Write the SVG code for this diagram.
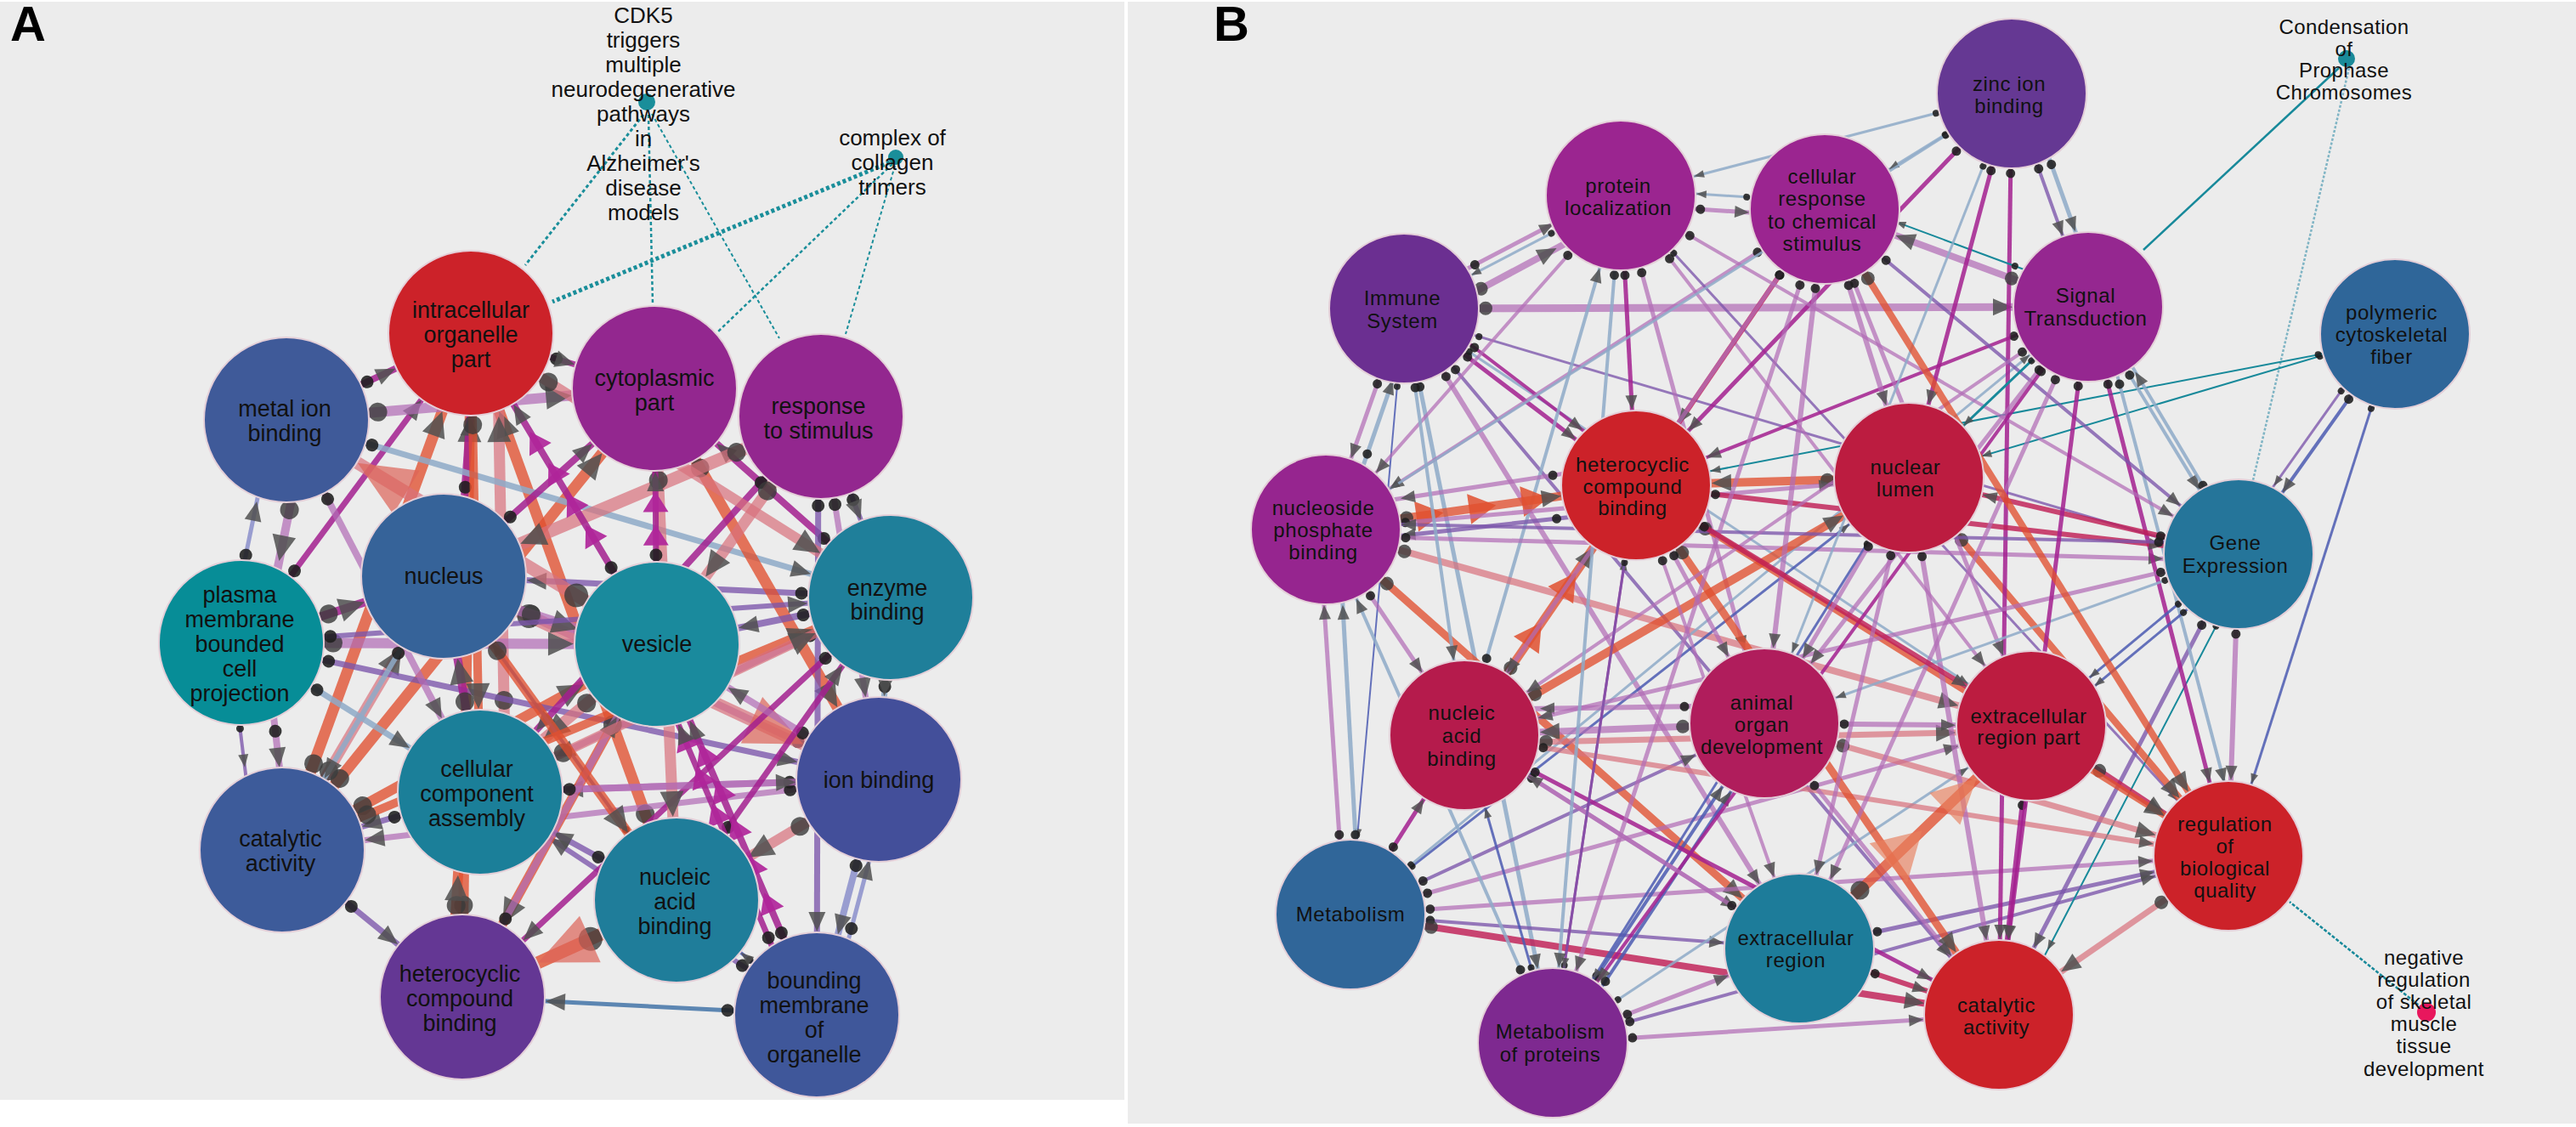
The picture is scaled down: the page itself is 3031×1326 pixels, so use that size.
<svg xmlns="http://www.w3.org/2000/svg" width="3031" height="1326" viewBox="0 0 3031 1326">
<style>
.bg{fill:#ececec}
.nd{stroke:#e4cfd8;stroke-width:2}
.la{font-family:"Liberation Sans",Arial,Helvetica,sans-serif;font-size:27px;fill:#111;text-anchor:middle}
.lb{font-family:"Liberation Sans",Arial,Helvetica,sans-serif;font-size:24px;fill:#111;text-anchor:middle;letter-spacing:0.6px}
.an{font-family:"Liberation Sans",Arial,Helvetica,sans-serif;font-size:26px;fill:#111;text-anchor:middle}
.anb{font-family:"Liberation Sans",Arial,Helvetica,sans-serif;font-size:24px;fill:#111;text-anchor:middle;letter-spacing:0.4px}
.pl{font-family:"Liberation Sans",Arial,Helvetica,sans-serif;font-weight:bold;font-size:58px;fill:#000}
line,polyline{fill:none}
.eO{stroke:#e0502f;stroke-opacity:.78}
.eR{stroke:#d8707c;stroke-opacity:.7}
.eM{stroke:#a3208f;stroke-opacity:.85}
.eP{stroke:#b26cb6;stroke-opacity:.72}
.eV{stroke:#7b55ab;stroke-opacity:.78}
.eB{stroke:#8eaac8;stroke-opacity:.85}
.eL{stroke:#8b8fcb;stroke-opacity:.85}
.eS{stroke:#5c86b2}
.eD{stroke:#4b5bb2;stroke-opacity:.85}
.eT{stroke:#17899a}
.eC{stroke:#c01e55;stroke-opacity:.82}
.dash{stroke:#1a8e9a;stroke-dasharray:4 3}
.ah{fill:#505050;fill-opacity:.85}
.dt{fill:#1e1e1e;fill-opacity:.88}
.dt2{fill:#3a3a3a;fill-opacity:.8}
.As{marker-start:url(#dAs);marker-end:url(#aAs)}
.Am{marker-start:url(#dAm);marker-end:url(#aAm)}
.Al{marker-start:url(#dAl);marker-end:url(#aAl)}
.Ax{marker-start:url(#dAx);marker-end:url(#aAx)}
.Bs{marker-start:url(#dBs);marker-end:url(#aBs)}
.Bm{marker-start:url(#dBm);marker-end:url(#aBm)}
.Bl{marker-start:url(#dBl);marker-end:url(#aBl)}
.cA{marker-start:url(#dAm);marker-mid:url(#mA);marker-end:url(#aAm)}
.cB{marker-start:url(#dBl);marker-mid:url(#mB);marker-end:url(#aBl)}
.cB2{marker-start:url(#dBx);marker-mid:url(#mB2);marker-end:url(#aBx)}
marker{overflow:visible}
</style>
<defs>
<marker id="aAs" markerUnits="userSpaceOnUse" orient="auto" markerWidth="1" markerHeight="1"><path class="ah" d="M-98,0L-113,-6L-113,6Z"/></marker>
<marker id="aAm" markerUnits="userSpaceOnUse" orient="auto" markerWidth="1" markerHeight="1"><path class="ah" d="M-98,0L-121,-10L-121,10Z"/></marker>
<marker id="aAl" markerUnits="userSpaceOnUse" orient="auto" markerWidth="1" markerHeight="1"><path class="ah" d="M-98,0L-128,-14L-128,14Z"/></marker>
<marker id="aAx" markerUnits="userSpaceOnUse" orient="auto" markerWidth="1" markerHeight="1"><path d="M-98,0L-165,-30L-165,30Z" fill="#dd6458" fill-opacity=".7"/></marker>
<marker id="dAs" markerUnits="userSpaceOnUse" orient="auto" markerWidth="1" markerHeight="1"><circle class="dt" cx="102" cy="0" r="4.5"/></marker>
<marker id="dAm" markerUnits="userSpaceOnUse" orient="auto" markerWidth="1" markerHeight="1"><circle class="dt" cx="105" cy="0" r="7.5"/></marker>
<marker id="dAl" markerUnits="userSpaceOnUse" orient="auto" markerWidth="1" markerHeight="1"><circle class="dt2" cx="108" cy="0" r="11"/></marker>
<marker id="dAx" markerUnits="userSpaceOnUse" orient="auto" markerWidth="1" markerHeight="1"><circle class="dt2" cx="111" cy="0" r="14"/></marker>
<marker id="mA" markerUnits="userSpaceOnUse" orient="auto" markerWidth="1" markerHeight="1"><path d="M14,0L-10,-15L-10,15Z" fill="#b0259a" fill-opacity=".92"/></marker>
<marker id="aBs" markerUnits="userSpaceOnUse" orient="auto" markerWidth="1" markerHeight="1"><path class="ah" d="M-89,0L-101,-4.5L-101,4.5Z"/></marker>
<marker id="aBm" markerUnits="userSpaceOnUse" orient="auto" markerWidth="1" markerHeight="1"><path class="ah" d="M-89,0L-106,-7L-106,7Z"/></marker>
<marker id="aBl" markerUnits="userSpaceOnUse" orient="auto" markerWidth="1" markerHeight="1"><path class="ah" d="M-89,0L-112,-10L-112,10Z"/></marker>
<marker id="aBx" markerUnits="userSpaceOnUse" orient="auto" markerWidth="1" markerHeight="1"><path d="M-89,0L-141,-26L-141,26Z" fill="#e8805e" fill-opacity=".65"/></marker>
<marker id="dBs" markerUnits="userSpaceOnUse" orient="auto" markerWidth="1" markerHeight="1"><circle class="dt" cx="92" cy="0" r="4"/></marker>
<marker id="dBm" markerUnits="userSpaceOnUse" orient="auto" markerWidth="1" markerHeight="1"><circle class="dt" cx="94" cy="0" r="5.5"/></marker>
<marker id="dBl" markerUnits="userSpaceOnUse" orient="auto" markerWidth="1" markerHeight="1"><circle class="dt2" cx="96" cy="0" r="8"/></marker>
<marker id="dBx" markerUnits="userSpaceOnUse" orient="auto" markerWidth="1" markerHeight="1"><circle class="dt2" cx="99" cy="0" r="11"/></marker>
<marker id="mB" markerUnits="userSpaceOnUse" orient="auto" markerWidth="1" markerHeight="1"><path d="M18,0L-14,-18L-14,18Z" fill="#e0502f" fill-opacity=".85"/></marker>
<marker id="mB2" markerUnits="userSpaceOnUse" orient="auto" markerWidth="1" markerHeight="1"><path d="M30,0L-25,-32L-25,32Z" fill="#e8805e" fill-opacity=".65"/></marker>
</defs>

<rect x="0" y="0" width="3031" height="1326" fill="#ffffff"/>
<rect class="bg" x="0" y="2" width="1323" height="1292"/>
<rect class="bg" x="1327" y="2" width="1704" height="1320"/>
<text class="pl" x="12" y="48">A</text>
<text class="pl" x="1428" y="48">B</text>

<g id="connectors">
<!-- Panel A annotation links -->
<line class="dash" x1="757" y1="135" x2="618" y2="312" stroke-width="3"/>
<line class="dash" x1="763" y1="135" x2="768" y2="358" stroke-width="2.5"/>
<line class="dash" x1="767" y1="134" x2="917" y2="398" stroke-width="2"/>
<line class="dash" x1="1047" y1="191" x2="650" y2="355" stroke-width="5"/>
<line class="dash" x1="1050" y1="193" x2="845" y2="390" stroke-width="2.5"/>
<line class="dash" x1="1053" y1="195" x2="995" y2="393" stroke-width="2"/>
<!-- Panel A edges -->
<line class="eO Al" x1="332" y1="1000" x2="554" y2="392" stroke-width="13"/>
<line class="eO Al" x1="332" y1="1000" x2="770" y2="457" stroke-width="13"/>
<line class="eO Al" x1="332" y1="1000" x2="773" y2="758" stroke-width="12"/>
<line class="eR Al" x1="332" y1="1000" x2="522" y2="678" stroke-width="12"/>
<line class="eO Al" x1="544" y1="1173" x2="554" y2="392" stroke-width="12"/>
<line class="eO Al" x1="796" y1="1059" x2="554" y2="392" stroke-width="13"/>
<line class="eR Al" x1="595" y1="932" x2="585" y2="392" stroke-width="13"/>
<line class="eM Am" x1="540" y1="678" x2="560" y2="392" stroke-width="9"/>
<line class="eM Am" x1="284" y1="756" x2="554" y2="392" stroke-width="7"/>
<line class="eM Al" x1="284" y1="756" x2="522" y2="678" stroke-width="10"/>
<line class="eP Al" x1="284" y1="756" x2="773" y2="758" stroke-width="12"/>
<line class="eV Am" x1="284" y1="756" x2="1034" y2="917" stroke-width="7"/>
<line class="eB Am" x1="284" y1="756" x2="565" y2="932" stroke-width="7"/>
<line class="eL Am" x1="268" y1="756" x2="322" y2="494" stroke-width="5"/>
<line class="eP Al" x1="362" y1="494" x2="309" y2="756" stroke-width="10"/>
<line class="eP Am" x1="337" y1="494" x2="565" y2="932" stroke-width="8"/>
<line class="eB Am" x1="337" y1="494" x2="1048" y2="703" stroke-width="7"/>
<line class="eP Al" x1="337" y1="494" x2="770" y2="457" stroke-width="12"/>
<line class="eM Am" x1="337" y1="494" x2="554" y2="392" stroke-width="8"/>
<line class="eM Am" x1="522" y1="678" x2="770" y2="457" stroke-width="8"/>
<line class="eV Am" x1="1048" y1="703" x2="522" y2="678" stroke-width="7"/>
<line class="eP Am" x1="1034" y1="917" x2="522" y2="678" stroke-width="8"/>
<line class="eO Al" x1="770" y1="457" x2="1034" y2="917" stroke-width="13"/>
<line class="eM Am" x1="1048" y1="703" x2="770" y2="457" stroke-width="8"/>
<line class="eR Al" x1="966" y1="490" x2="522" y2="678" stroke-width="15"/>
<line class="eV Am" x1="966" y1="490" x2="1048" y2="703" stroke-width="6"/>
<line class="eP Am" x1="966" y1="490" x2="1034" y2="917" stroke-width="7"/>
<line class="eV Am" x1="963" y1="490" x2="961" y2="1194" stroke-width="7"/>
<line class="eL Am" x1="1034" y1="917" x2="961" y2="1194" stroke-width="8"/>
<line class="eL Am" x1="975" y1="1194" x2="1048" y2="917" stroke-width="5"/>
<line class="eR Ax" x1="773" y1="758" x2="337" y2="494" stroke-width="15"/>
<line class="eR Ax" x1="522" y1="678" x2="1034" y2="917" stroke-width="15"/>
<line class="eO Ax" x1="796" y1="1059" x2="544" y2="1173" stroke-width="15"/>
<line class="eS Am" x1="961" y1="1194" x2="544" y2="1173" stroke-width="5"/>
<line class="eV Am" x1="961" y1="1194" x2="565" y2="932" stroke-width="6"/>
<line class="eD As" x1="961" y1="1194" x2="796" y2="1059" stroke-width="4"/>
<line class="eV Am" x1="565" y1="932" x2="332" y2="1000" stroke-width="7"/>
<line class="eP Am" x1="1034" y1="917" x2="332" y2="1000" stroke-width="7"/>
<line class="eB Am" x1="522" y1="678" x2="332" y2="1000" stroke-width="6"/>
<line class="eV Am" x1="332" y1="1000" x2="544" y2="1173" stroke-width="7"/>
<line class="eP Am" x1="312" y1="756" x2="340" y2="1000" stroke-width="8"/>
<line class="eV As" x1="270" y1="756" x2="300" y2="1000" stroke-width="4"/>
<line class="eR Al" x1="773" y1="758" x2="565" y2="932" stroke-width="13"/>
<line class="eP Am" x1="1048" y1="703" x2="565" y2="932" stroke-width="8"/>
<line class="eP Am" x1="1034" y1="917" x2="565" y2="932" stroke-width="8"/>
<line class="eO Al" x1="773" y1="758" x2="544" y2="1173" stroke-width="11"/>
<line class="eM Am" x1="1048" y1="703" x2="544" y2="1173" stroke-width="7"/>
<line class="eM Am" x1="966" y1="490" x2="565" y2="932" stroke-width="8"/>
<line class="eV Am" x1="1048" y1="703" x2="773" y2="758" stroke-width="8"/>
<line class="eP Al" x1="522" y1="690" x2="773" y2="770" stroke-width="12"/>
<line class="eM Al" x1="565" y1="932" x2="522" y2="678" stroke-width="10"/>
<line class="eV Am" x1="796" y1="1059" x2="565" y2="932" stroke-width="7"/>
<line class="eD As" x1="796" y1="1059" x2="522" y2="678" stroke-width="4"/>
<line class="eM Am" x1="554" y1="392" x2="770" y2="457" stroke-width="7"/>
<line class="eR Al" x1="770" y1="457" x2="796" y2="1059" stroke-width="13"/>
<line class="eR Al" x1="966" y1="490" x2="773" y2="758" stroke-width="13"/>
<line class="eR Al" x1="554" y1="392" x2="1048" y2="703" stroke-width="12"/>
<line class="eP Am" x1="1034" y1="917" x2="773" y2="758" stroke-width="8"/>
<line class="eR Al" x1="1034" y1="917" x2="796" y2="1059" stroke-width="12"/>
<line class="eB Am" x1="1048" y1="703" x2="1034" y2="917" stroke-width="7"/>
<line class="eO Al" x1="530" y1="1173" x2="545" y2="932" stroke-width="12"/>
<line class="eO Al" x1="332" y1="1000" x2="1048" y2="703" stroke-width="10"/>
<line class="eP Am" x1="544" y1="1173" x2="773" y2="758" stroke-width="8"/>
<line class="eR Al" x1="565" y1="932" x2="1048" y2="703" stroke-width="11"/>
<line class="eO Al" x1="522" y1="678" x2="796" y2="1059" stroke-width="11"/>
<line class="eP Am" x1="565" y1="932" x2="1034" y2="917" stroke-width="8"/>
<line class="eV Am" x1="284" y1="756" x2="1048" y2="703" stroke-width="6"/>
<line class="eO Al" x1="554" y1="392" x2="565" y2="932" stroke-width="10"/>
<line class="eM Am" x1="796" y1="1059" x2="1048" y2="703" stroke-width="7"/>
<polyline class="eM cA" points="961,1194 904.6,1063.2 885.8,1019.6 867,976 848.2,932.4 829.4,888.8 773,758" stroke-width="8"/>
<polyline class="eM cA" points="945,1200 843.25,959.1 824.75,915.3 806.25,871.5 760,762" stroke-width="7"/>
<polyline class="eM cA" points="773,758 696.4,629.9 674.5,593.3 652.6,556.7 630.7,520.1 554,392" stroke-width="8"/>
<polyline class="eM cA" points="773,758 771.7,631.6 771.4,592.4 770,457" stroke-width="7"/>

<!-- Panel B annotation links -->
<line class="eT" x1="2752" y1="80" x2="2522" y2="294" stroke-width="2.5"/>
<line x1="2764" y1="80" x2="2651" y2="565" stroke="#7fb4c4" stroke-width="2.5" stroke-dasharray="3 2"/>
<line x1="2850" y1="1186" x2="2694" y2="1061" stroke="#17899a" stroke-width="2.5" stroke-dasharray="4 2"/>
<!-- Panel B edges -->
<line class="eP Bm" x1="1652" y1="355" x2="1907" y2="222" stroke-width="5"/>
<line class="eB Bs" x1="1907" y1="232" x2="1652" y2="365" stroke-width="3"/>
<line class="eP Bl" x1="1658" y1="385" x2="1910" y2="250" stroke-width="8"/>
<line class="eP Bl" x1="1652" y1="363" x2="2457" y2="361" stroke-width="9"/>
<line class="eV Bs" x1="1652" y1="370" x2="2634" y2="660" stroke-width="3"/>
<line class="eB Bs" x1="1652" y1="363" x2="2390" y2="854" stroke-width="3"/>
<line class="eM Bm" x1="1652" y1="363" x2="1925" y2="571" stroke-width="5"/>
<line class="eM Bm" x1="1660" y1="352" x2="1933" y2="560" stroke-width="4"/>
<line class="eP Bm" x1="1652" y1="363" x2="2117" y2="1116" stroke-width="6"/>
<line class="eV Bm" x1="1652" y1="363" x2="2352" y2="1194" stroke-width="4"/>
<line class="eP Bm" x1="1652" y1="363" x2="1560" y2="623" stroke-width="5"/>
<line class="eB Bm" x1="1578" y1="623" x2="1668" y2="363" stroke-width="5"/>
<line class="eD Bs" x1="1652" y1="363" x2="1589" y2="1076" stroke-width="2"/>
<line class="eB Bm" x1="1652" y1="363" x2="1827" y2="1227" stroke-width="5"/>
<line class="eP Bm" x1="1907" y1="230" x2="1560" y2="623" stroke-width="4"/>
<line class="eP Bm" x1="2147" y1="246" x2="1560" y2="623" stroke-width="4"/>
<line class="eM Bm" x1="1907" y1="230" x2="1925" y2="571" stroke-width="5"/>
<line class="eB Bm" x1="1723" y1="865" x2="1907" y2="230" stroke-width="4"/>
<line class="eP Bm" x1="1907" y1="230" x2="2390" y2="854" stroke-width="4"/>
<line class="eP Bm" x1="1907" y1="230" x2="2076" y2="851" stroke-width="5"/>
<line class="eV Bs" x1="1907" y1="230" x2="2622" y2="1007" stroke-width="3"/>
<line class="eB Bs" x1="2147" y1="238" x2="1907" y2="222" stroke-width="3"/>
<line class="eP Bm" x1="1907" y1="240" x2="2147" y2="256" stroke-width="5"/>
<line class="eB Bs" x1="2367" y1="110" x2="1907" y2="230" stroke-width="3"/>
<line class="eC Bm" x1="2147" y1="246" x2="1925" y2="571" stroke-width="6"/>
<line class="eM Bm" x1="2367" y1="110" x2="1925" y2="571" stroke-width="5"/>
<line class="eM Bm" x1="2457" y1="361" x2="1925" y2="571" stroke-width="4"/>
<line class="eT Bs" x1="2818" y1="393" x2="2246" y2="562" stroke-width="2"/>
<line class="eT Bs" x1="2818" y1="400" x2="1925" y2="571" stroke-width="2"/>
<line class="eO Bl" x1="2246" y1="562" x2="1925" y2="571" stroke-width="10"/>
<polyline class="eO cB" points="1560,623 1680.5,605.8 1742.5,597 1804.6,588.2 1925,571" stroke-width="10"/>
<line class="eV Bm" x1="1925" y1="600" x2="1560" y2="640" stroke-width="5"/>
<line class="eP Bm" x1="1920" y1="545" x2="1560" y2="600" stroke-width="5"/>
<line class="eO Bl" x1="1560" y1="623" x2="2117" y2="1116" stroke-width="9"/>
<line class="eR Bl" x1="1560" y1="623" x2="2390" y2="854" stroke-width="8"/>
<line class="eP Bm" x1="1560" y1="630" x2="2634" y2="660" stroke-width="5"/>
<line class="eP Bm" x1="1560" y1="623" x2="2246" y2="562" stroke-width="5"/>
<line class="eP Bm" x1="1582" y1="1076" x2="1552" y2="623" stroke-width="5"/>
<line class="eB Bm" x1="1600" y1="1076" x2="1575" y2="623" stroke-width="5"/>
<line class="eM Bm" x1="1589" y1="1076" x2="1723" y2="865" stroke-width="5"/>
<line class="eD Bs" x1="1589" y1="1076" x2="2246" y2="562" stroke-width="3"/>
<line class="eB Bs" x1="1589" y1="1076" x2="2457" y2="361" stroke-width="3"/>
<line class="eV Bm" x1="1589" y1="1076" x2="2076" y2="851" stroke-width="4"/>
<line class="eP Bm" x1="1589" y1="1076" x2="2390" y2="854" stroke-width="5"/>
<line class="eP Bm" x1="1589" y1="1076" x2="2622" y2="1007" stroke-width="5"/>
<line class="eV Bm" x1="1589" y1="1076" x2="2117" y2="1116" stroke-width="4"/>
<line class="eC Bl" x1="1589" y1="1076" x2="2352" y2="1194" stroke-width="8"/>
<line class="eD Bs" x1="1827" y1="1227" x2="1723" y2="865" stroke-width="3"/>
<line class="eB Bm" x1="1827" y1="1227" x2="1560" y2="623" stroke-width="4"/>
<line class="eM Bs" x1="1827" y1="1227" x2="1925" y2="571" stroke-width="3"/>
<line class="eD Bm" x1="1827" y1="1227" x2="2076" y2="851" stroke-width="4"/>
<line class="eD Bm" x1="1837" y1="1233" x2="2086" y2="857" stroke-width="4"/>
<line class="eP Bm" x1="1827" y1="1227" x2="2117" y2="1116" stroke-width="5"/>
<line class="eP Bm" x1="1827" y1="1227" x2="2352" y2="1194" stroke-width="5"/>
<line class="eV Bm" x1="1827" y1="1227" x2="2622" y2="1007" stroke-width="4"/>
<line class="eB Bs" x1="1827" y1="1227" x2="2390" y2="854" stroke-width="3"/>
<line class="eP Bl" x1="2076" y1="851" x2="1723" y2="865" stroke-width="8"/>
<line class="eP Bm" x1="2076" y1="830" x2="1723" y2="835" stroke-width="6"/>
<line class="eR Bl" x1="1723" y1="875" x2="2390" y2="860" stroke-width="7"/>
<line class="eP Bm" x1="1723" y1="865" x2="2117" y2="1116" stroke-width="5"/>
<polyline class="eO cB" points="1723,865 1803.8,747.4 1844.2,688.6 1925,571" stroke-width="10"/>
<line class="eO Bl" x1="1723" y1="865" x2="2246" y2="562" stroke-width="10"/>
<line class="eP Bm" x1="2634" y1="652" x2="2622" y2="1007" stroke-width="6"/>
<line class="eD Bs" x1="2818" y1="393" x2="2622" y2="1007" stroke-width="3"/>
<line class="eV Bm" x1="2634" y1="652" x2="2352" y2="1194" stroke-width="5"/>
<line class="eT Bs" x1="2650" y1="655" x2="2368" y2="1197" stroke-width="2"/>
<line class="eM Bm" x1="2457" y1="361" x2="2622" y2="1007" stroke-width="5"/>
<line class="eB Bm" x1="2470" y1="361" x2="2640" y2="1007" stroke-width="4"/>
<line class="eO Bl" x1="2246" y1="562" x2="2622" y2="1007" stroke-width="8"/>
<line class="eC Bl" x1="2390" y1="854" x2="2622" y2="1007" stroke-width="7"/>
<line class="eR Bl" x1="2076" y1="851" x2="2622" y2="1007" stroke-width="7"/>
<line class="eR Bm" x1="1723" y1="865" x2="2622" y2="1007" stroke-width="6"/>
<line class="eO Bl" x1="1925" y1="571" x2="2622" y2="1007" stroke-width="7"/>
<line class="eV Bm" x1="2117" y1="1116" x2="2622" y2="1007" stroke-width="5"/>
<line class="eR Bl" x1="2622" y1="1007" x2="2352" y2="1194" stroke-width="7"/>
<line class="eM Bm" x1="2390" y1="854" x2="2352" y2="1194" stroke-width="6"/>
<line class="eM Bm" x1="2367" y1="110" x2="2352" y2="1194" stroke-width="5"/>
<line class="eP Bm" x1="2246" y1="562" x2="2352" y2="1194" stroke-width="6"/>
<line class="eP Bm" x1="2076" y1="851" x2="2352" y2="1194" stroke-width="5"/>
<line class="eM Bm" x1="1723" y1="865" x2="2352" y2="1194" stroke-width="5"/>
<line class="eO Bl" x1="1925" y1="571" x2="2352" y2="1194" stroke-width="9"/>
<line class="eC Bm" x1="2117" y1="1116" x2="2352" y2="1194" stroke-width="6"/>
<polyline class="eO cB2" points="2117,1116 2239.9,998.1 2390,854" stroke-width="12"/>
<line class="eP Bm" x1="2076" y1="851" x2="2390" y2="854" stroke-width="6"/>
<line class="eP Bm" x1="2147" y1="246" x2="2390" y2="854" stroke-width="5"/>
<line class="eB Bm" x1="2457" y1="361" x2="2634" y2="652" stroke-width="4"/>
<line class="eV Bm" x1="2147" y1="246" x2="2634" y2="652" stroke-width="4"/>
<line class="eP Bm" x1="1907" y1="230" x2="2634" y2="652" stroke-width="4"/>
<line class="eD Bm" x1="2818" y1="393" x2="2634" y2="652" stroke-width="4"/>
<line class="eV Bs" x1="2808" y1="385" x2="2624" y2="644" stroke-width="3"/>
<line class="eC Bm" x1="2634" y1="652" x2="2246" y2="562" stroke-width="6"/>
<line class="eP Bm" x1="2634" y1="652" x2="1723" y2="865" stroke-width="5"/>
<line class="eC Bm" x1="1925" y1="571" x2="2634" y2="652" stroke-width="6"/>
<line class="eV Bm" x1="2634" y1="640" x2="1560" y2="615" stroke-width="4"/>
<line class="eB Bm" x1="2640" y1="652" x2="2467" y2="361" stroke-width="4"/>
<line class="eD Bs" x1="2634" y1="652" x2="2390" y2="854" stroke-width="3"/>
<line class="eD Bs" x1="2640" y1="662" x2="2396" y2="864" stroke-width="3"/>
<line class="eB Bs" x1="2634" y1="652" x2="2076" y2="851" stroke-width="3"/>
<line class="eT Bs" x1="2457" y1="361" x2="2246" y2="562" stroke-width="3"/>
<line class="eP Bm" x1="2457" y1="361" x2="2076" y2="851" stroke-width="5"/>
<line class="eP Bm" x1="2457" y1="361" x2="2117" y2="1116" stroke-width="5"/>
<line class="eM Bm" x1="2457" y1="361" x2="1827" y2="1227" stroke-width="4"/>
<line class="eP Bm" x1="2457" y1="361" x2="1723" y2="865" stroke-width="4"/>
<line class="eP Bl" x1="2457" y1="361" x2="2147" y2="246" stroke-width="8"/>
<line class="eT Bs" x1="2457" y1="345" x2="2147" y2="230" stroke-width="2"/>
<line class="eM Bm" x1="2457" y1="361" x2="2352" y2="1194" stroke-width="5"/>
<line class="eB Bs" x1="2367" y1="110" x2="2147" y2="246" stroke-width="3"/>
<line class="eB Bs" x1="2367" y1="110" x2="1560" y2="623" stroke-width="3"/>
<line class="eM Bm" x1="2367" y1="110" x2="2246" y2="562" stroke-width="5"/>
<line class="eV Bm" x1="2367" y1="110" x2="2457" y2="361" stroke-width="4"/>
<line class="eB Bm" x1="2382" y1="105" x2="2472" y2="356" stroke-width="5"/>
<line class="eB Bs" x1="2367" y1="110" x2="2076" y2="851" stroke-width="3"/>
<line class="eP Bm" x1="2147" y1="246" x2="2246" y2="562" stroke-width="6"/>
<line class="eP Bm" x1="2147" y1="246" x2="2076" y2="851" stroke-width="6"/>
<line class="eO Bl" x1="2147" y1="246" x2="2622" y2="1007" stroke-width="8"/>
<line class="eP Bm" x1="2147" y1="246" x2="1827" y2="1227" stroke-width="5"/>
<line class="eP Bm" x1="2147" y1="246" x2="1723" y2="865" stroke-width="5"/>
<line class="eP Bm" x1="1925" y1="571" x2="2076" y2="851" stroke-width="5"/>
<line class="eC Bm" x1="1925" y1="571" x2="2390" y2="854" stroke-width="6"/>
<line class="eP Bm" x1="1925" y1="571" x2="2117" y2="1116" stroke-width="4"/>
<line class="eP Bm" x1="2246" y1="562" x2="2117" y2="1116" stroke-width="5"/>
<line class="eD Bs" x1="2246" y1="562" x2="1827" y2="1227" stroke-width="3"/>
<line class="eP Bm" x1="2246" y1="562" x2="2076" y2="851" stroke-width="5"/>
<line class="eP Bm" x1="2117" y1="1116" x2="1723" y2="865" stroke-width="5"/>
<line class="eV Bs" x1="1925" y1="571" x2="1827" y2="1227" stroke-width="3"/>
<line class="eP Bm" x1="1560" y1="623" x2="1723" y2="865" stroke-width="5"/>
<line class="eB Bm" x1="1907" y1="230" x2="1827" y2="1227" stroke-width="4"/>
<line class="eB Bm" x1="1652" y1="363" x2="1723" y2="865" stroke-width="4"/>
</g>

<!-- Panel A nodes -->
<g id="a-cdk5"><circle cx="761" cy="120" r="10" fill="#1a8e9a"/>
<text class="an"><tspan x="757" y="27">CDK5</tspan><tspan x="757" y="56">triggers</tspan><tspan x="757" y="85">multiple</tspan><tspan x="757" y="114">neurodegenerative</tspan><tspan x="757" y="143">pathways</tspan><tspan x="757" y="172">in</tspan><tspan x="757" y="201">Alzheimer's</tspan><tspan x="757" y="230">disease</tspan><tspan x="757" y="259">models</tspan></text></g>
<g id="a-collagen"><circle cx="1054" cy="185" r="9" fill="#1a8e9a"/>
<text class="an"><tspan x="1050" y="171">complex of</tspan><tspan x="1050" y="200">collagen</tspan><tspan x="1050" y="229">trimers</tspan></text></g>
<g id="a-iop"><circle class="nd" cx="554" cy="392" r="97" fill="#cc2229"/><text class="la"><tspan x="554" y="374">intracellular</tspan><tspan x="554" y="403">organelle</tspan><tspan x="554" y="432">part</tspan></text></g>
<g id="a-cp"><circle class="nd" cx="770" cy="457" r="97" fill="#93278f"/><text class="la"><tspan x="770" y="454">cytoplasmic</tspan><tspan x="770" y="483">part</tspan></text></g>
<g id="a-rs"><circle class="nd" cx="966" cy="490" r="97" fill="#93278f"/><text class="la"><tspan x="963" y="487">response</tspan><tspan x="963" y="516">to stimulus</tspan></text></g>
<g id="a-mib"><circle class="nd" cx="337" cy="494" r="97" fill="#3f5a99"/><text class="la"><tspan x="335" y="490">metal ion</tspan><tspan x="335" y="519">binding</tspan></text></g>
<g id="a-nuc"><circle class="nd" cx="522" cy="678" r="97" fill="#366399"/><text class="la" x="522" y="687">nucleus</text></g>
<g id="a-pm"><circle class="nd" cx="284" cy="756" r="97" fill="#078d97"/><text class="la"><tspan x="282" y="709">plasma</tspan><tspan x="282" y="738">membrane</tspan><tspan x="282" y="767">bounded</tspan><tspan x="282" y="796">cell</tspan><tspan x="282" y="825">projection</tspan></text></g>
<g id="a-ves"><circle class="nd" cx="773" cy="758" r="97" fill="#1a8a9d"/><text class="la" x="773" y="767">vesicle</text></g>
<g id="a-enz"><circle class="nd" cx="1048" cy="703" r="97" fill="#1f7f9a"/><text class="la"><tspan x="1044" y="701">enzyme</tspan><tspan x="1044" y="729">binding</tspan></text></g>
<g id="a-cca"><circle class="nd" cx="565" cy="932" r="97" fill="#1b7f99"/><text class="la"><tspan x="561" y="914">cellular</tspan><tspan x="561" y="943">component</tspan><tspan x="561" y="972">assembly</tspan></text></g>
<g id="a-cat"><circle class="nd" cx="332" cy="1000" r="97" fill="#3d5b9a"/><text class="la"><tspan x="330" y="996">catalytic</tspan><tspan x="330" y="1025">activity</tspan></text></g>
<g id="a-ion"><circle class="nd" cx="1034" cy="917" r="97" fill="#434f9a"/><text class="la" x="1034" y="927">ion binding</text></g>
<g id="a-nab"><circle class="nd" cx="796" cy="1059" r="97" fill="#1f7d9a"/><text class="la"><tspan x="794" y="1041">nucleic</tspan><tspan x="794" y="1070">acid</tspan><tspan x="794" y="1099">binding</tspan></text></g>
<g id="a-hcb"><circle class="nd" cx="544" cy="1173" r="97" fill="#643794"/><text class="la"><tspan x="541" y="1155">heterocyclic</tspan><tspan x="541" y="1184">compound</tspan><tspan x="541" y="1213">binding</tspan></text></g>
<g id="a-bmo"><circle class="nd" cx="961" cy="1194" r="97" fill="#3f579a"/><text class="la"><tspan x="958" y="1163">bounding</tspan><tspan x="958" y="1192">membrane</tspan><tspan x="958" y="1221">of</tspan><tspan x="958" y="1250">organelle</tspan></text></g>

<!-- Panel B nodes -->
<g id="b-cond"><circle cx="2761" cy="69" r="10" fill="#1a8a99"/>
<text class="anb"><tspan x="2758" y="40">Condensation</tspan><tspan x="2758" y="66">of</tspan><tspan x="2758" y="91">Prophase</tspan><tspan x="2758" y="117">Chromosomes</tspan></text></g>
<g id="b-neg"><circle cx="2855" cy="1191" r="11" fill="#e8175d"/>
<text class="anb"><tspan x="2852" y="1135">negative</tspan><tspan x="2852" y="1161">regulation</tspan><tspan x="2852" y="1187">of skeletal</tspan><tspan x="2852" y="1213">muscle</tspan><tspan x="2852" y="1239">tissue</tspan><tspan x="2852" y="1266">development</tspan></text></g>
<g id="b-pl"><circle class="nd" cx="1907" cy="230" r="88" fill="#9b2590"/><text class="lb"><tspan x="1904" y="227">protein</tspan><tspan x="1904" y="253">localization</tspan></text></g>
<g id="b-is"><circle class="nd" cx="1652" cy="363" r="88" fill="#6b2f91"/><text class="lb"><tspan x="1650" y="359">Immune</tspan><tspan x="1650" y="386">System</tspan></text></g>
<g id="b-zib"><circle class="nd" cx="2367" cy="110" r="88" fill="#653893"/><text class="lb"><tspan x="2364" y="107">zinc ion</tspan><tspan x="2364" y="133">binding</tspan></text></g>
<g id="b-crcs"><circle class="nd" cx="2147" cy="246" r="88" fill="#9b2590"/><text class="lb"><tspan x="2144" y="216">cellular</tspan><tspan x="2144" y="242">response</tspan><tspan x="2144" y="269">to chemical</tspan><tspan x="2144" y="295">stimulus</tspan></text></g>
<g id="b-st"><circle class="nd" cx="2457" cy="361" r="88" fill="#952790"/><text class="lb"><tspan x="2454" y="356">Signal</tspan><tspan x="2454" y="383">Transduction</tspan></text></g>
<g id="b-pcf"><circle class="nd" cx="2818" cy="393" r="88" fill="#2f6699"/><text class="lb"><tspan x="2814" y="376">polymeric</tspan><tspan x="2814" y="402">cytoskeletal</tspan><tspan x="2814" y="428">fiber</tspan></text></g>
<g id="b-npb"><circle class="nd" cx="1560" cy="623" r="88" fill="#96258f"/><text class="lb"><tspan x="1557" y="606">nucleoside</tspan><tspan x="1557" y="632">phosphate</tspan><tspan x="1557" y="658">binding</tspan></text></g>
<g id="b-hcb"><circle class="nd" cx="1925" cy="571" r="88" fill="#cc2229"/><text class="lb"><tspan x="1921" y="555">heterocyclic</tspan><tspan x="1921" y="581">compound</tspan><tspan x="1921" y="606">binding</tspan></text></g>
<g id="b-nl"><circle class="nd" cx="2246" cy="562" r="88" fill="#bc1c40"/><text class="lb"><tspan x="2242" y="558">nuclear</tspan><tspan x="2242" y="584">lumen</tspan></text></g>
<g id="b-ge"><circle class="nd" cx="2634" cy="652" r="88" fill="#25759a"/><text class="lb"><tspan x="2630" y="647">Gene</tspan><tspan x="2630" y="674">Expression</tspan></text></g>
<g id="b-nab"><circle class="nd" cx="1723" cy="865" r="88" fill="#b51b4c"/><text class="lb"><tspan x="1720" y="847">nucleic</tspan><tspan x="1720" y="874">acid</tspan><tspan x="1720" y="901">binding</tspan></text></g>
<g id="b-aod"><circle class="nd" cx="2076" cy="851" r="88" fill="#b01d5c"/><text class="lb"><tspan x="2073" y="835">animal</tspan><tspan x="2073" y="861">organ</tspan><tspan x="2073" y="887">development</tspan></text></g>
<g id="b-erp"><circle class="nd" cx="2390" cy="854" r="88" fill="#bc1c40"/><text class="lb"><tspan x="2387" y="851">extracellular</tspan><tspan x="2387" y="876">region part</tspan></text></g>
<g id="b-rbq"><circle class="nd" cx="2622" cy="1007" r="88" fill="#cc2229"/><text class="lb"><tspan x="2618" y="978">regulation</tspan><tspan x="2618" y="1004">of</tspan><tspan x="2618" y="1030">biological</tspan><tspan x="2618" y="1056">quality</tspan></text></g>
<g id="b-met"><circle class="nd" cx="1589" cy="1076" r="88" fill="#306699"/><text class="lb" x="1589" y="1084">Metabolism</text></g>
<g id="b-er"><circle class="nd" cx="2117" cy="1116" r="88" fill="#1d7c9a"/><text class="lb"><tspan x="2113" y="1112">extracellular</tspan><tspan x="2113" y="1138">region</tspan></text></g>
<g id="b-mop"><circle class="nd" cx="1827" cy="1227" r="88" fill="#7e2990"/><text class="lb"><tspan x="1824" y="1222">Metabolism</tspan><tspan x="1824" y="1249">of proteins</tspan></text></g>
<g id="b-cat"><circle class="nd" cx="2352" cy="1194" r="88" fill="#cc2229"/><text class="lb"><tspan x="2349" y="1191">catalytic</tspan><tspan x="2349" y="1217">activity</tspan></text></g>
</svg>
